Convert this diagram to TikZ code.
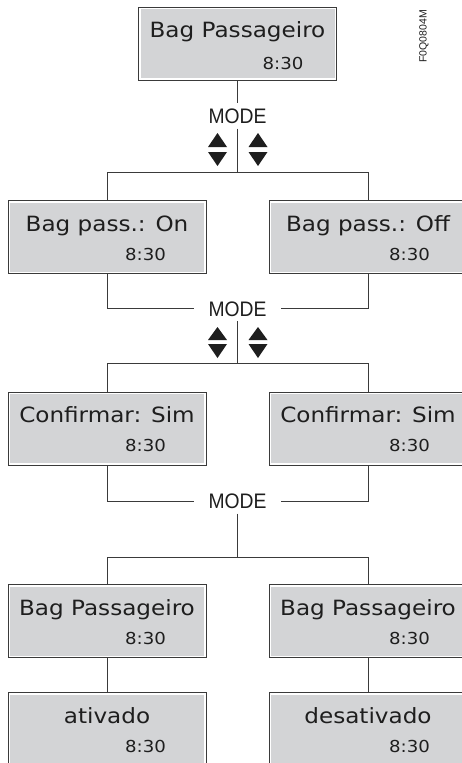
\documentclass[tikz,border=0pt]{standalone}
\usepackage{fontspec}
\setmainfont{Liberation Sans}
\newfontfamily\lcdfont[FakeStretch=1.1]{DejaVu Sans}
\newfontfamily\modefont[FakeStretch=0.92]{Liberation Sans}
\definecolor{boxgray}{HTML}{D3D4D6}
\definecolor{linecol}{HTML}{3A3A3A}
\definecolor{txtcol}{HTML}{1E1E1E}
\begin{document}
\begin{tikzpicture}[x=1pt,y=-1pt,
  lcd/.style={draw=linecol, line width=1pt, fill=boxgray, minimum width=198pt,
    minimum height=73pt, inner sep=0pt,
    path picture={\draw[white,line width=4pt] (path picture bounding box.south west) rectangle (path picture bounding box.north east);}},
  maintext/.style={font=\lcdfont\fontsize{21}{24}\selectfont, text=txtcol, inner sep=0pt, anchor=base},
  timetext/.style={font=\lcdfont\fontsize{16.5}{20}\selectfont, text=txtcol, inner sep=0pt, anchor=base},
  modelabel/.style={font=\modefont\fontsize{21}{24}\selectfont, text=txtcol, inner xsep=14pt, inner ysep=5pt, text height=15pt, text depth=0pt},
  conn/.style={draw=linecol, line width=1pt},
  tri/.style={fill=txtcol}
]
\path[use as bounding box, clip] (0,0) rectangle (462,763);
\fill[white] (0,0) rectangle (462,763);

% boxes
\node[lcd] (top) at (237.5,43.5) {};
\node[lcd] (r2l) at (107,237) {};
\node[lcd] (r2r) at (368,237) {};
\node[lcd] (r3l) at (107,428.5) {};
\node[lcd] (r3r) at (368,428.5) {};
\node[lcd] (r4l) at (107,621) {};
\node[lcd] (r4r) at (368,621) {};
\node[lcd] (r5l) at (107,729) {};
\node[lcd] (r5r) at (368,729) {};

% texts
\node[maintext] (t0) at ([yshift=-31pt]top.north) {Bag Passageiro};
\node[timetext] (h0) at ([xshift=145pt,yshift=-63pt]top.north west) {8:30};
\node[maintext] (t2l) at ([yshift=-31pt]r2l.north) {Bag pass.: On};
\node[timetext] (h2l) at ([xshift=138pt,yshift=-60pt]r2l.north west) {8:30};
\node[maintext] (t2r) at ([yshift=-31pt]r2r.north) {Bag pass.: Off};
\node[timetext] (h2r) at ([xshift=141pt,yshift=-60pt]r2r.north west) {8:30};
\node[maintext] (t3l) at ([yshift=-31pt]r3l.north) {Confirmar: Sim};
\node[timetext] (h3l) at ([xshift=138pt,yshift=-60pt]r3l.north west) {8:30};
\node[maintext] (t3r) at ([yshift=-31pt]r3r.north) {Confirmar: Sim};
\node[timetext] (h3r) at ([xshift=141pt,yshift=-60pt]r3r.north west) {8:30};
\node[maintext] (t4l) at ([yshift=-31pt]r4l.north) {Bag Passageiro};
\node[timetext] (h4l) at ([xshift=138pt,yshift=-60pt]r4l.north west) {8:30};
\node[maintext] (t4r) at ([yshift=-31pt]r4r.north) {Bag Passageiro};
\node[timetext] (h4r) at ([xshift=141pt,yshift=-60pt]r4r.north west) {8:30};
\node[maintext] (t5l) at ([yshift=-31pt]r5l.north) {ativado};
\node[timetext] (h5l) at ([xshift=138pt,yshift=-60pt]r5l.north west) {8:30};
\node[maintext] (t5r) at ([yshift=-31pt]r5r.north) {desativado};
\node[timetext] (h5r) at ([xshift=141pt,yshift=-60pt]r5r.north west) {8:30};

% MODE labels
\node[modelabel] (mode1) at (237.5,116) {MODE};
\node[modelabel] (mode2) at (237.5,308.5) {MODE};
\node[modelabel] (mode3) at (237.5,501) {MODE};

\coordinate (j1) at (237.5,172);
\coordinate (j2) at (237.5,363);
\coordinate (j3) at (237.5,557);

% connectors
\draw[conn] (top.south) -- (mode1.north);
\draw[conn] (mode1.south) -- (j1);
\draw[conn] (j1) -| (r2l.north);
\draw[conn] (j1) -| (r2r.north);
\draw[conn] (r2l.south) |- (mode2.west);
\draw[conn] (r2r.south) |- (mode2.east);
\draw[conn] (mode2.south) -- (j2);
\draw[conn] (j2) -| (r3l.north);
\draw[conn] (j2) -| (r3r.north);
\draw[conn] (r3l.south) |- (mode3.west);
\draw[conn] (r3r.south) |- (mode3.east);
\draw[conn] (mode3.south) -- (j3);
\draw[conn] (j3) -| (r4l.north);
\draw[conn] (j3) -| (r4r.north);
\draw[conn] (r4l.south) -- (r5l.north);
\draw[conn] (r4r.south) -- (r5r.north);

% arrow triangles
\foreach \x in {217.5,258} {
  \fill[tri] (\x-9.5,147) -- (\x+9.5,147) -- (\x,133) -- cycle;
  \fill[tri] (\x-9.5,152) -- (\x+9.5,152) -- (\x,166) -- cycle;
  \fill[tri] (\x-9.5,340) -- (\x+9.5,340) -- (\x,327) -- cycle;
  \fill[tri] (\x-9.5,344) -- (\x+9.5,344) -- (\x,358) -- cycle;
}

% figure code
\node[font=\fontsize{10.5}{12}\selectfont, text=txtcol, rotate=90, inner sep=0pt] (code) at (424,36.5) {F0Q0804M};
\end{tikzpicture}
\end{document}
